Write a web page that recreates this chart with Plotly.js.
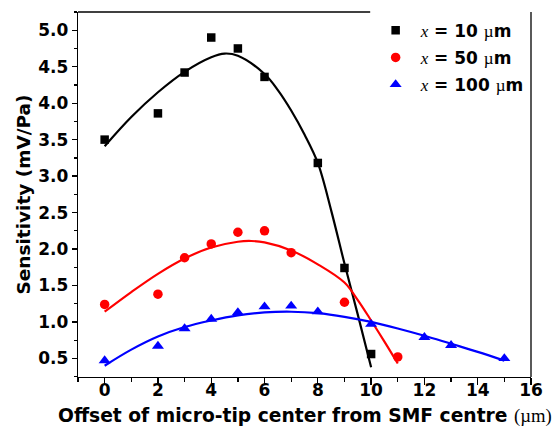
<!DOCTYPE html>
<html>
<head>
<meta charset="utf-8">
<script src="https://cdn.plot.ly/plotly-3.0.1.min.js"></script>
<style>html,body{margin:0;padding:0;background:#fff;}#chart{width:556px;height:439px;}</style>
</head>
<body>
<div id="chart"></div>
<script>
// Measured points
var xBlack = [0, 2, 3, 4, 5, 6, 8, 9, 10];
var yBlack = [3.50, 3.86, 4.42, 4.90, 4.75, 4.36, 3.18, 1.74, 0.56];
var xRed = [0, 2, 3, 4, 5, 6, 7, 9, 11];
var yRed = [1.24, 1.38, 1.88, 2.07, 2.23, 2.25, 1.95, 1.27, 0.52];
var xBlue = [0, 2, 3, 4, 5, 6, 7, 8, 10, 12, 13, 15];
var yBlue = [0.47, 0.67, 0.91, 1.04, 1.13, 1.21, 1.22, 1.14, 0.97, 0.79, 0.68, 0.50];

// Fitted curves
var xBlackFit = [0, 1, 2, 3, 4, 4.5, 5, 6, 6.5, 7, 7.5, 8, 8.5, 9, 9.5, 10];
var yBlackFit = [3.41, 3.81, 4.15, 4.43, 4.63, 4.68, 4.65, 4.40, 4.18, 3.90, 3.57, 3.18, 2.53, 1.80, 1.10, 0.38];
var xRedFit = [0, 1, 2, 3, 4, 5, 5.5, 6, 7, 8, 9, 9.5, 10, 10.5, 11];
var yRedFit = [1.14, 1.41, 1.66, 1.87, 2.02, 2.10, 2.11, 2.09, 1.98, 1.79, 1.54, 1.30, 1.02, 0.73, 0.43];
var xBlueFit = [0, 1, 2, 3, 4, 5, 6, 7, 8, 9, 10, 11, 12, 13, 14, 15];
var yBlueFit = [0.40, 0.62, 0.80, 0.93, 1.02, 1.09, 1.13, 1.14, 1.12, 1.07, 1.00, 0.91, 0.81, 0.70, 0.59, 0.47];

var seriesLabels = ['10', '50', '100'];
var xTitle = 'Offset of micro-tip center from SMF centre ';
var xTitleUnit = '(µm)';
var yTitle = 'Sensitivity (mV/Pa)';

var serif = 'font-family:Liberation Serif;font-weight:normal';
var nameFor = function (v) {
  return '<span style="' + serif + ';font-style:italic">x</span> = ' + v +
    ' <span style="' + serif + '">µ</span>m';
};

var fitLine = function (x, y, c) {
  return {x: x, y: y, type: 'scatter', mode: 'lines', showlegend: false, hoverinfo: 'skip',
    line: {color: c, width: 2.2, shape: 'spline'}};
};

var traces = [
  fitLine(xBlackFit, yBlackFit, '#000000'),
  fitLine(xRedFit, yRedFit, '#ff0000'),
  fitLine(xBlueFit, yBlueFit, '#0000ff'),
  {x: xBlack, y: yBlack, type: 'scatter', mode: 'markers', name: nameFor(seriesLabels[0]), legendgroup: 'a',
    marker: {symbol: 'square', size: 8.5, color: '#000000'}},
  {x: xRed, y: yRed, type: 'scatter', mode: 'markers', name: nameFor(seriesLabels[1]), legendgroup: 'b',
    marker: {symbol: 'circle', size: 9.5, color: '#ff0000'}},
  {x: xBlue, y: yBlue, type: 'scatter', mode: 'markers', name: nameFor(seriesLabels[2]), legendgroup: 'c',
    marker: {symbol: 'triangle-up', size: 10.5, color: '#0000ff'}}
];

var fontFam = 'DejaVu Sans, Arial, sans-serif';
var frame = {color: '#000000', width: 1.3};

var layout = {
  width: 556, height: 439,
  margin: {l: 78, r: 25, t: 12, b: 62, pad: 0},
  paper_bgcolor: '#ffffff', plot_bgcolor: '#ffffff',
  font: {family: fontFam, color: '#000000', size: 17, weight: 'bold'},
  showlegend: true,
  legend: {
    x: 0.646, xanchor: 'left', y: 0.998, yanchor: 'top',
    bgcolor: 'rgba(0,0,0,0)', borderwidth: 0,
    font: {family: fontFam, size: 17, color: '#000000', weight: 'bold'},
    itemwidth: 40, tracegroupgap: 2, traceorder: 'grouped'
  },
  xaxis: {
    range: [-1, 16], tick0: 0, dtick: 2,
    ticks: 'outside', ticklen: 6.5, tickwidth: 1.3, tickcolor: '#000000',
    ticklabelstandoff: -9,
    showline: true, linecolor: '#000000', linewidth: 1.3, mirror: false,
    showgrid: false, zeroline: false,
    tickfont: {family: fontFam, size: 17, color: '#000000', weight: 'bold'},
    minor: {dtick: 1, ticks: 'outside', ticklen: 3.5, tickwidth: 1.3, tickcolor: '#000000', showgrid: false}
  },
  yaxis: {
    range: [0.245, 5.25], tick0: 0.5, dtick: 0.5, tickformat: '.1f',
    ticks: 'outside', ticklen: 5, tickwidth: 1.3, tickcolor: '#000000',
    showline: true, linecolor: '#000000', linewidth: 1.3, mirror: false,
    showgrid: false, zeroline: false,
    tickfont: {family: fontFam, size: 17, color: '#000000', weight: 'bold'},
    minor: {dtick: 0.25, ticks: 'outside', ticklen: 3, tickwidth: 1.3, tickcolor: '#000000', showgrid: false},
    title: {
      text: yTitle,
      font: {family: fontFam, size: 18.5, color: '#000000', weight: 'bold'},
      standoff: 2.5
    }
  },
  shapes: [
    {type: 'line', xref: 'paper', yref: 'paper', x0: 0, x1: 0.645, y0: 1, y1: 1, line: frame},
    {type: 'line', xref: 'paper', yref: 'paper', x0: 1, x1: 1, y0: 0, y1: 1, line: frame}
  ],
  annotations: [{
    text: xTitle + '<span style="' + serif + '">' + xTitleUnit + '</span>',
    xref: 'paper', yref: 'paper', x: 0.502, y: -0.107, xanchor: 'center', yanchor: 'middle',
    showarrow: false,
    font: {family: fontFam, size: 18.7, color: '#000000', weight: 'bold'}
  }]
};

Plotly.newPlot('chart', traces, layout, {displayModeBar: false, staticPlot: true});
</script>
</body>
</html>
